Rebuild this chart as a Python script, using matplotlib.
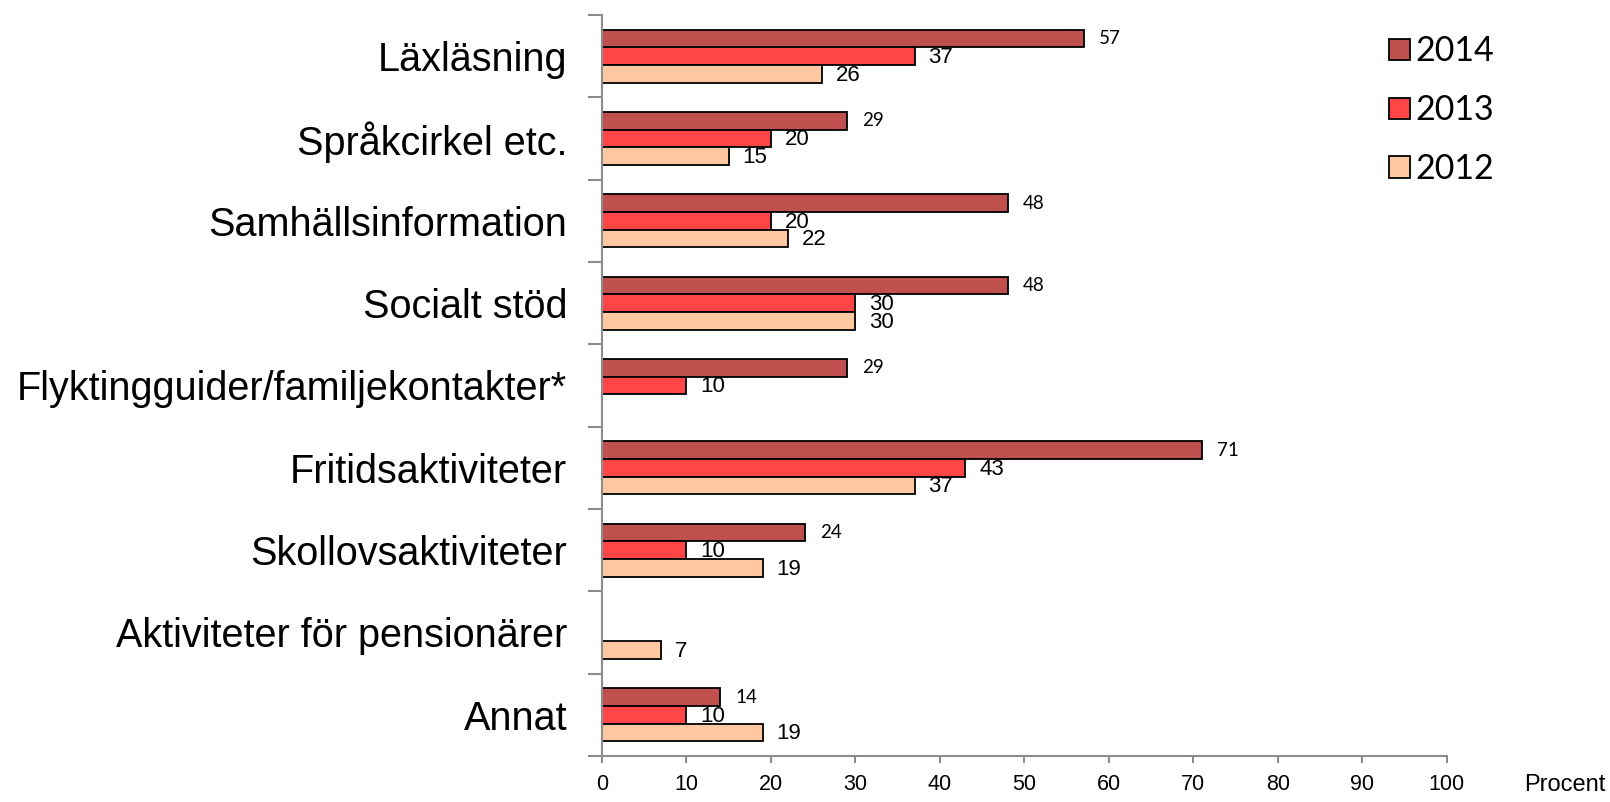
import matplotlib
matplotlib.use("Agg")
import matplotlib.pyplot as plt
import numpy as np

categories = [
    "Läxläsning",
    "Språkcirkel etc.",
    "Samhällsinformation",
    "Socialt stöd",
    "Flyktingguider/familjekontakter*",
    "Fritidsaktiviteter",
    "Skollovsaktiviteter",
    "Aktiviteter för pensionärer",
    "Annat",
]
years = ["2014", "2013", "2012"]
v2014 = [57, 29, 48, 48, 29, 71, 24, None, 14]
v2013 = [37, 20, 20, 30, 10, 43, 10, None, 10]
v2012 = [26, 15, 22, 30, None, 37, 19, 7, 19]
x_ticks = [0, 10, 20, 30, 40, 50, 60, 70, 80, 90, 100]

colors = {"2014": "#C0504D", "2013": "#FF4545", "2012": "#FFC8A0"}
series = {"2014": v2014, "2013": v2013, "2012": v2012}

fig = plt.figure(figsize=(16.10, 8.02), dpi=100)
ax = fig.add_axes([0.3739, 0.0574, 0.5248, 0.9239])

h = 0.215
offsets = {"2014": -h, "2013": 0.0, "2012": h}
ypos = np.arange(len(categories))
handles = []
for yr in years:
    vals = series[yr]
    ys = [y + offsets[yr] for y, v in zip(ypos, vals) if v is not None]
    ws = [v for v in vals if v is not None]
    bars = ax.barh(ys, ws, height=h, color=colors[yr], edgecolor="black",
                   linewidth=1.3, label=yr)
    handles.append(bars)
    for yy, w in zip(ys, ws):
        if yr == "2014":
            ax.annotate(str(w), (w, yy), xytext=(11, 0), textcoords="offset points",
                        ha="left", va="center", fontsize=13.5, family="Lato")
        else:
            ax.annotate(str(w), (w, yy), xytext=(10, -1), textcoords="offset points",
                        ha="left", va="center", fontsize=16, family="Liberation Sans")

ax.set_xlim(0, 100)
ax.set_ylim(len(categories) - 0.5, -0.5)
ax.set_xticks(x_ticks)
ax.set_xticklabels([str(t) for t in x_ticks], fontsize=15.5, family="Liberation Sans")
ax.set_yticks(ypos)
ax.set_yticklabels(categories, fontsize=28.5, family="Liberation Sans")
ax.tick_params(axis="y", which="major", length=0, pad=25)
ax.set_yticks(np.arange(len(categories) + 1) - 0.5, minor=True)
ax.tick_params(axis="y", which="minor", length=10, width=1.5, color="#8C8C8C")
ax.tick_params(axis="x", length=5, width=1.5, color="#8C8C8C", pad=8)

for s in ["top", "right"]:
    ax.spines[s].set_visible(False)
for s in ["left", "bottom"]:
    ax.spines[s].set_color("#8C8C8C")
    ax.spines[s].set_linewidth(1.5)

fig.text(0.9975, 0.008, "Procent", ha="right", va="bottom", fontsize=17,
         family="Liberation Sans")

leg = fig.legend(handles=handles, labels=years, loc="upper left",
                 bbox_to_anchor=(0.844, 0.994), frameon=False,
                 prop={"family": "Lato", "size": 24.5},
                 handlelength=0.6, handleheight=0.6, handletextpad=0.15,
                 labelspacing=0.79)

fig.savefig("out.png", dpi=100)
